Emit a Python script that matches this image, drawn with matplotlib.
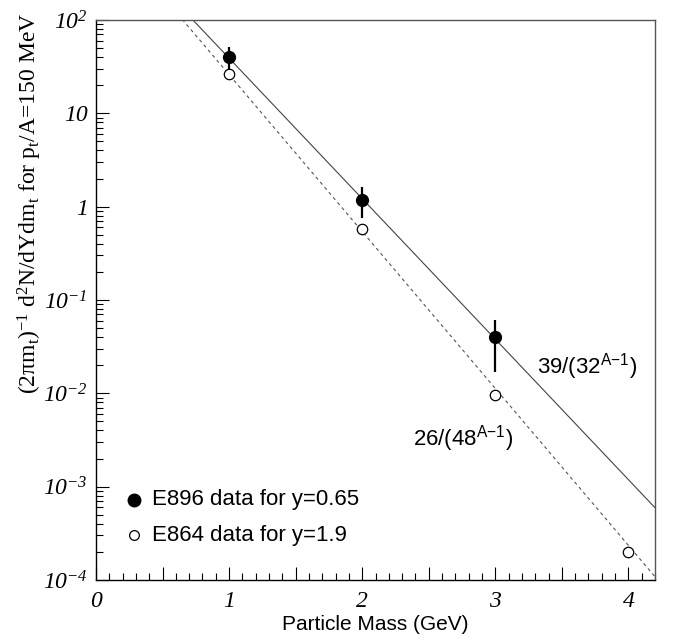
import numpy as np
import matplotlib
matplotlib.use("Agg")
import matplotlib.pyplot as plt
from matplotlib.ticker import FixedLocator, MultipleLocator, NullFormatter

# math text follows the font of each Text object
plt.rcParams['mathtext.default'] = 'regular'

# Measured yields at pt/A = 150 MeV
mass_e896 = [1, 2, 3]
yield_e896 = [40.0, 1.18, 0.040]
err_lo_e896 = [11.0, 0.43, 0.023]
err_hi_e896 = [11.0, 0.44, 0.021]

mass_e864 = [1, 2, 3, 4]
yield_e864 = [26.4, 0.575, 0.0096, 2.0e-4]

# Penalty-factor fits: norm / base^(A-1)
fit_e896 = (39.0, 32.0)
fit_e864 = (26.0, 48.0)

ytick_vals = [1e-4, 1e-3, 1e-2, 1e-1, 1, 10, 1e2]
ytick_text = [r'$10^{-4}$', r'$10^{-3}$', r'$10^{-2}$', r'$10^{-1}$', '1', '10', r'$10^{2}$']
xtick_vals = [0, 1, 2, 3, 4]

fig = plt.figure(figsize=(6.73, 6.43), dpi=100)
ax = fig.add_axes([96/673, 1 - 580/643, (655 - 96)/673, (580 - 20)/643])
ax.set_xlim(0, 4.2)
ax.set_ylim(1e-4, 1e2)
ax.set_yscale('log')

a = np.linspace(0.5, 4.2, 400)
ax.plot(a, fit_e896[0] / fit_e896[1] ** (a - 1), color='#444444', lw=0.8, zorder=2)
ax.plot(a, fit_e864[0] / fit_e864[1] ** (a - 1), color='#555555', lw=0.8,
        linestyle=(0, (3, 3)), zorder=2)

ax.errorbar(mass_e896, yield_e896, yerr=[err_lo_e896, err_hi_e896], fmt='o',
            color='black', ms=8.5, elinewidth=1.6, capsize=0, zorder=4)
ax.plot(mass_e864, yield_e864, 'o', mfc='white', mec='black', mew=0.9, ms=7.5, zorder=3)

ax.text(537, 643 - 373, '%g/(%g$^{A{-1}}$)' % fit_e896, transform=None,
        family='Liberation Sans', fontsize=16, ha='left', va='baseline')
ax.text(413, 643 - 446, '%g/(%g$^{A{-1}}$)' % fit_e864, transform=None,
        family='Liberation Sans', fontsize=16, ha='left', va='baseline')

# legend entries
ax.plot([134], [643 - 500], 'o', color='black', ms=9, transform=None, clip_on=False)
ax.plot([134], [643 - 535], 'o', mfc='white', mec='black', mew=0.9, ms=7,
        transform=None, clip_on=False)
ax.text(152, 643 - 500, 'E896 data for y=0.65', transform=None,
        family='Liberation Sans', fontsize=16, ha='left', va='center')
ax.text(152, 643 - 535, 'E864 data for y=1.9', transform=None,
        family='Liberation Sans', fontsize=16, ha='left', va='center')

xmaj = np.arange(0, 4.01, 0.5)
ax.xaxis.set_minor_locator(MultipleLocator(0.1))
ax.set_xticks(xmaj)
ax.set_xticklabels(['%d' % v if abs(v - round(v)) < 1e-9 else '' for v in xmaj],
                   family='Liberation Serif', fontstyle='italic', fontsize=17)
ax.yaxis.set_major_locator(FixedLocator(ytick_vals))
ax.set_yticklabels(ytick_text, family='Liberation Serif', fontstyle='italic', fontsize=17)
ax.yaxis.set_minor_formatter(NullFormatter())

ax.tick_params(which='both', direction='in', top=False, right=False)
ax.tick_params(which='major', length=9.5, width=0.8)
ax.tick_params(which='minor', length=5, width=0.8)
ax.tick_params(axis='x', pad=8)
ax.tick_params(axis='y', pad=6)

for s in ax.spines.values():
    s.set_linewidth(1.0)
ax.spines['top'].set_color('#555555')
ax.spines['right'].set_color('#555555')

ax.set_xlabel('Particle Mass (GeV)', family='Liberation Sans', fontsize=15, labelpad=2)
fig.text(30 / 673, 1 - 13 / 643,
         '(2\u03c0$m_t$)$^{-1}$ d$^2$N/dYd$m_t$ for $p_t$/A=150 MeV',
         family='Liberation Serif', fontsize=17, rotation=90, ha='center', va='top')

fig.savefig('out.png', dpi=100)
